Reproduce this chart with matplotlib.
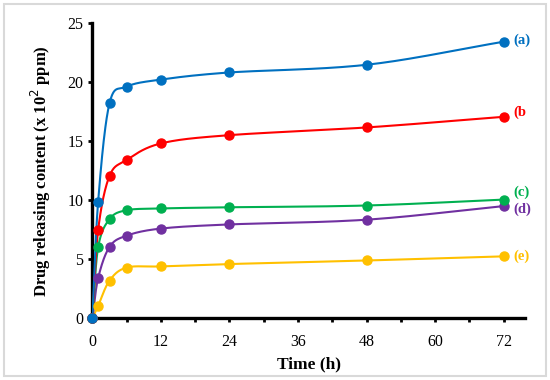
import numpy as np
import matplotlib
matplotlib.use("Agg")
import matplotlib.pyplot as plt
from matplotlib.patches import Rectangle

plt.rcParams['font.family'] = ['Liberation Serif', 'DejaVu Serif']

time_h = [0, 1, 3, 6, 12, 24, 48, 72]
series_a = [0, 9.85, 18.2, 19.6, 20.2, 20.8, 21.45, 23.4]
series_b = [0, 7.45, 12.05, 13.4, 14.8, 15.5, 16.15, 17.05]
series_c = [0, 6.0, 8.4, 9.15, 9.3, 9.4, 9.55, 10.05]
series_d = [0, 3.4, 6.05, 7.0, 7.6, 7.95, 8.35, 9.5]
series_e = [0, 1.05, 3.2, 4.3, 4.4, 4.6, 4.9, 5.25]
labels = ['(a)', '(b', '(c)', '(d)', '(e)']
colors = ['#0070C0', '#FF0000', '#00B050', '#7030A0', '#FFC000']
label_dy = [1, 3, 5, -2, 0]  # small vertical nudges (points) for end labels


def smooth(x, y, n=30):
    # Catmull-Rom style smoothing, like a spreadsheet "smoothed line"
    x = np.asarray(x, float)
    y = np.asarray(y, float)
    px = np.concatenate([[2 * x[0] - x[1]], x, [2 * x[-1] - x[-2]]])
    py = np.concatenate([[2 * y[0] - y[1]], y, [2 * y[-1] - y[-2]]])
    xs, ys = [], []
    t = np.linspace(0, 1, n)
    for i in range(1, len(px) - 2):
        p0, p1, p2, p3 = (np.array([px[j], py[j]]) for j in range(i - 1, i + 3))
        c1 = p1 + (p2 - p0) / 6
        c2 = p2 - (p3 - p1) / 6
        b = ((1 - t) ** 3)[:, None] * p1 + (3 * (1 - t) ** 2 * t)[:, None] * c1 \
            + (3 * (1 - t) * t ** 2)[:, None] * c2 + (t ** 3)[:, None] * p2
        xs.extend(b[:, 0])
        ys.extend(b[:, 1])
    return np.array(xs), np.array(ys)


fig = plt.figure(figsize=(5.5, 3.8), dpi=100)
ax = fig.add_axes([0.168, 0.162, 0.787, 0.778])

all_series = [series_a, series_b, series_c, series_d, series_e]
for vals, lab, col, dy in reversed(list(zip(all_series, labels, colors, label_dy))):
    sx, sy = smooth(time_h, vals)
    ax.plot(sx, sy, color=col, lw=1.5, zorder=3)
    ax.plot(time_h, vals, 'o', color=col, ms=6.5, zorder=4, clip_on=False)
    ax.annotate(lab, (time_h[-1], vals[-1]), xytext=(7, dy),
                textcoords='offset points', color=col, fontsize=10.5,
                fontweight='bold', va='center', ha='left')

ax.set_xlim(0, 75.8)
ax.set_ylim(0, 25)
ax.set_xticks(np.arange(0, 73, 12))
ax.set_xticks(np.arange(0, 73, 6), minor=True)
ax.set_yticks(np.arange(0, 26, 5))
for s in ['top', 'right']:
    ax.spines[s].set_visible(False)
for s in ['left', 'bottom']:
    ax.spines[s].set_linewidth(2.4)
ax.tick_params(which='both', direction='out', length=3, width=2, labelsize=11.5)
ax.tick_params(axis='x', pad=8)

ax.set_xlabel('Time (h)', fontsize=12.5, fontweight='bold', labelpad=5)
ax.set_ylabel('Drug releasing content (x 10$^{2}$ ppm)', fontsize=12,
              fontweight='bold', labelpad=10)

fig.patches.append(Rectangle((4 / 550, 4 / 380), 542 / 550, 372 / 380,
                             transform=fig.transFigure, fill=False,
                             edgecolor='#d9d9d9', lw=1.5))

plt.savefig('out.png', dpi=100)
